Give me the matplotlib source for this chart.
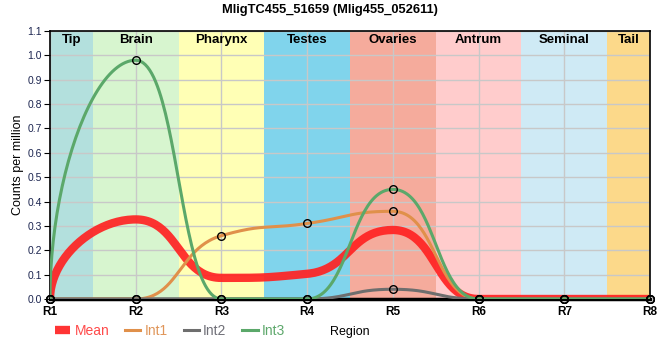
import matplotlib.pyplot as plt
import numpy as np

plt.rcParams['font.family'] = ['Liberation Sans', 'DejaVu Sans']

regions = ['R1', 'R2', 'R3', 'R4', 'R5', 'R6', 'R7', 'R8']
tissues = ['Tip', 'Brain', 'Pharynx', 'Testes', 'Ovaries', 'Antrum', 'Seminal', 'Tail']
tissue_colors = ['#b3e0dd', '#d7f5cf', '#ffffb5', '#80d4ec', '#f5ab9c', '#ffcccc', '#cfeaf5', '#fcd98a']

int1 = [0.0, 0.0, 0.26, 0.31, 0.36, 0.0, 0.0, 0.0]
int2 = [0.0, 0.0, 0.0, 0.0, 0.04, 0.0, 0.0, 0.0]
int3 = [0.0, 0.98, 0.0, 0.0, 0.45, 0.0, 0.0, 0.0]
mean = list(np.mean([int1, int2, int3], axis=0))


def spline(y, sm=1.0, n=50):
    # bezier spline through the points, control points like a highcharts spline
    y = np.asarray(y, float)
    x = np.arange(len(y), dtype=float)
    d = sm + 1
    lc = [None] * len(y)
    rc = [None] * len(y)
    for i in range(1, len(y) - 1):
        lx, ly = (sm * x[i] + x[i - 1]) / d, (sm * y[i] + y[i - 1]) / d
        rx, ry = (sm * x[i] + x[i + 1]) / d, (sm * y[i] + y[i + 1]) / d
        corr = (ry - ly) * (rx - x[i]) / (rx - lx) + y[i] - ry
        ly += corr
        ry += corr
        if ly > y[i - 1] and ly > y[i]:
            ly = max(y[i - 1], y[i]); ry = 2 * y[i] - ly
        elif ly < y[i - 1] and ly < y[i]:
            ly = min(y[i - 1], y[i]); ry = 2 * y[i] - ly
        if ry > y[i + 1] and ry > y[i]:
            ry = max(y[i + 1], y[i]); ly = 2 * y[i] - ry
        elif ry < y[i + 1] and ry < y[i]:
            ry = min(y[i + 1], y[i]); ly = 2 * y[i] - ry
        lc[i] = (lx, ly)
        rc[i] = (rx, ry)
    # end points: vertical handles
    rc[0] = (x[0], y[0] + (y[1] - y[0]) / d)
    lc[-1] = (x[-1], y[-1] + (y[-2] - y[-1]) / d)
    t = np.linspace(0, 1, n)[:, None]
    pts = []
    for i in range(len(y) - 1):
        p0 = np.array([x[i], y[i]])
        p1 = np.array(rc[i])
        p2 = np.array(lc[i + 1])
        p3 = np.array([x[i + 1], y[i + 1]])
        b = (1 - t)**3 * p0 + 3 * (1 - t)**2 * t * p1 + 3 * (1 - t) * t**2 * p2 + t**3 * p3
        pts.append(b if i == 0 else b[1:])
    pts = np.vstack(pts)
    return pts[:, 0], pts[:, 1]


fig = plt.figure(figsize=(6.6, 3.6), dpi=100)
ax = fig.add_axes([50 / 660, 1 - 299 / 360, 600 / 660, 268 / 360])

for i, (name, c) in enumerate(zip(tissues, tissue_colors)):
    lo, hi = max(i - 0.5, 0), min(i + 0.5, 7)
    ax.axvspan(lo, hi, color=c, lw=0, zorder=0)
    ax.text((lo + hi) / 2, 1.063, name, ha='center', va='center', fontsize=9.5,
            fontweight='bold', color='black', zorder=5)

x = np.arange(len(regions))
lines = []
xs, ys = spline(mean)
lines.append(ax.plot(xs, ys, color='#ff2222', lw=6, alpha=0.92, zorder=3,
                     solid_capstyle='butt', label='Mean')[0])
for data, c, lab in [(int1, '#e0904a', 'Int1'), (int2, '#6e6e6e', 'Int2'),
                     (int3, '#5ba86a', 'Int3')]:
    xs, ys = spline(data)
    lines.append(ax.plot(xs, ys, color=c, lw=2.2, zorder=4, label=lab)[0])
    ax.plot(x, data, 'o', ms=5.5, mfc='none', mec='black', mew=1, zorder=6, clip_on=False)

ax.set_xlim(0, 7)
ax.set_ylim(0, 1.1)
ax.set_xticks(x)
ax.set_xticklabels(regions, fontsize=8.5, fontweight='bold')
ax.set_yticks(np.arange(0, 1.11, 0.1))
ax.set_yticklabels([f'{v:.1f}' for v in np.arange(0, 1.11, 0.1)], fontsize=7.5, color='#1c2550')
ax.tick_params(axis='x', length=0, pad=5)
ax.tick_params(axis='y', length=4, width=0.8, pad=2)
ax.grid(color='#c8c8c8', lw=1)
ax.set_axisbelow(True)
for side in ['top', 'left', 'right']:
    ax.spines[side].set_linewidth(1.2)
ax.spines['bottom'].set_linewidth(2.5)
ax.set_ylabel('Counts per million', fontsize=9, labelpad=2)
fig.text(0.5, 1 - 10 / 360, 'MligTC455_51659 (Mlig455_052611)', ha='center', va='center',
         fontsize=9.3, fontweight='bold')

leg_colors = ['#ff4a4a', '#e0965a', '#707078', '#5ea86c']
leg = fig.legend(handles=lines, labels=['Mean', 'Int1', 'Int2', 'Int3'],
                 loc='center left', bbox_to_anchor=(55 / 660, 1 - 331 / 360),
                 ncol=4, frameon=False, handlelength=1.1, columnspacing=1.15,
                 handletextpad=0.3, borderpad=0, borderaxespad=0, fontsize=10)
for txt, c in zip(leg.get_texts(), leg_colors):
    txt.set_color(c)
fig.text(330 / 660, 1 - 332 / 360, 'Region', ha='left', va='center', fontsize=9)

plt.savefig('out.png', dpi=100)
